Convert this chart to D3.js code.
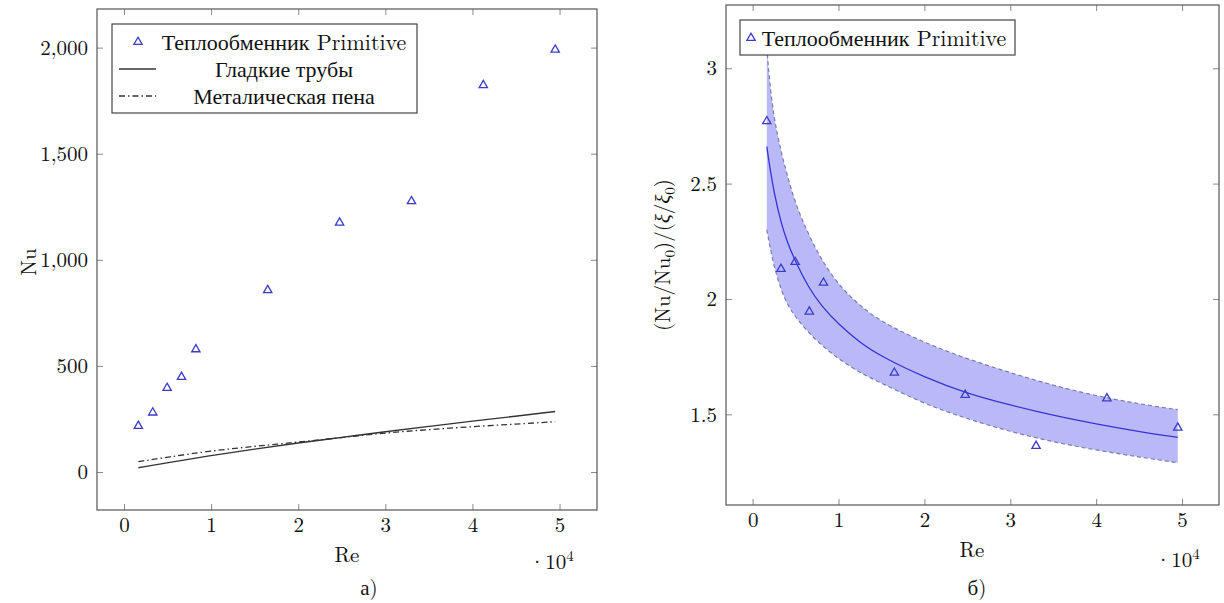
<!DOCTYPE html>
<html>
<head>
<meta charset="utf-8">
<script src="https://cdn.jsdelivr.net/npm/d3@7"></script>
<style>
  html, body { margin: 0; padding: 0; background: #fff; }
  svg { display: block; }
  svg text { font-family: "Latin Modern Roman", "Liberation Serif", serif; fill: #111; }
</style>
</head>
<body>
<svg id="chart" width="1224" height="603"></svg>
<script>
// Reynolds numbers of the measured points (×10^4)
const RE = [0.165, 0.33, 0.495, 0.66, 0.825, 1.65, 2.475, 3.3, 4.125, 4.95];
// Nusselt number, Primitive heat exchanger
const NU_PRIMITIVE = [217, 280, 396, 448, 578, 857, 1175, 1276, 1823, 1990];

// Reference correlations (×10^4 Re)
const CURVE_RE = [0.165, 0.5, 1.0, 1.5, 2.0, 2.5, 3.0, 3.5, 4.0, 4.5, 4.95];
const NU_SMOOTH = [20, 44, 78, 108, 137, 163, 190, 215, 240, 263, 285];
const NU_FOAM = [49, 70, 100, 121, 141, 162, 185, 200, 214, 226, 237];

// Thermal-hydraulic efficiency (Nu/Nu0)/(xi/xi0) of the same points
const RATIO_PRIMITIVE = [2.77, 2.13, 2.16, 1.945, 2.07, 1.68, 1.584, 1.363, 1.569, 1.442];

// Fitted trend and its confidence band
const FIT_RE = [0.165, 0.2, 0.25, 0.33, 0.4, 0.5, 0.65, 0.8, 1.0, 1.25, 1.5, 2.0, 2.5, 3.0, 3.5, 4.0, 4.5, 4.95];
const FIT = [2.66, 2.57, 2.46, 2.33, 2.25, 2.16, 2.05, 1.97, 1.89, 1.81, 1.75, 1.66, 1.59, 1.54, 1.495, 1.458, 1.425, 1.40];
const BAND_UPPER = [3.09, 2.93, 2.78, 2.64, 2.54, 2.41, 2.28, 2.17, 2.06, 1.97, 1.90, 1.81, 1.74, 1.68, 1.625, 1.58, 1.545, 1.52];
const BAND_LOWER = [2.30, 2.23, 2.14, 2.04, 1.98, 1.92, 1.855, 1.80, 1.74, 1.68, 1.635, 1.545, 1.48, 1.425, 1.38, 1.345, 1.315, 1.29];

// Axis ticks
const X_TICKS = [0, 1, 2, 3, 4, 5];
const Y_TICKS_NU = [0, 500, 1000, 1500, 2000];
const Y_TICKS_RATIO = [1.5, 2, 2.5, 3];

// Legend entries: [Cyrillic part, Latin part]
const LEGEND_LEFT = [["Теплообменник", "Primitive"], ["Гладкие трубы", ""], ["Металическая пена", ""]];
const LEGEND_RIGHT = [["Теплообменник", "Primitive"]];

const BLUE = "#3b3bcc";
const FRAME = "#555";
const TICK = "#8a8a8a";
const SERIF = "'Latin Modern Roman', 'Liberation Serif', serif";
const TEXT_SERIF = "'Liberation Serif', serif";
const FS = 21;

const svg = d3.select("#chart");
svg.append("rect").attr("width", 1224).attr("height", 603).attr("fill", "#fff");

function triangle(g, cx, cy) {
  g.append("path")
    .attr("d", d3.symbol(d3.symbolTriangle, 30)())
    .attr("transform", `translate(${cx},${cy})`)
    .attr("fill", "none")
    .attr("stroke", BLUE)
    .attr("stroke-width", 1.3);
}

function label(parent) {
  return parent.append("text").style("font-family", SERIF).attr("font-size", FS);
}

// legend entry: Cyrillic words in a Cyrillic-capable serif, Latin words in Latin Modern
function legendText(parent, x, y, parts) {
  const t = parent.append("text").style("font-family", TEXT_SERIF)
    .attr("x", x).attr("y", y).attr("dy", "0.35em")
    .attr("text-anchor", "middle").attr("font-size", 22);
  t.append("tspan").text(parts[0]);
  if (parts[1]) t.append("tspan").style("font-family", SERIF).text(" " + parts[1]);
  return t;
}

function panel(box, xDomain, yDomain, yTicks, yFormat, id) {
  const x = d3.scaleLinear().domain(xDomain).range([box.x0, box.x1]);
  const y = d3.scaleLinear().domain(yDomain).range([box.y1, box.y0]);
  const g = svg.append("g");

  svg.append("clipPath").attr("id", id)
    .append("rect")
    .attr("x", box.x0).attr("y", box.y0)
    .attr("width", box.x1 - box.x0).attr("height", box.y1 - box.y0);

  const style = sel => {
    sel.attr("font-family", null).attr("font-size", null);
    sel.select(".domain").remove();
    sel.selectAll(".tick line").attr("stroke", TICK).attr("stroke-width", 1);
    sel.selectAll(".tick text")
      .style("font-family", SERIF)
      .attr("font-size", FS)
      .attr("fill", "#111");
  };

  g.append("g").attr("transform", `translate(0,${box.y1})`)
    .call(d3.axisBottom(x).tickValues(X_TICKS).tickSize(-6).tickPadding(7).tickFormat(d3.format("d")))
    .call(style);
  g.append("g").attr("transform", `translate(0,${box.y0})`)
    .call(d3.axisTop(x).tickValues(X_TICKS).tickSize(-6).tickFormat(""))
    .call(style);
  g.append("g").attr("transform", `translate(${box.x0},0)`)
    .call(d3.axisLeft(y).tickValues(yTicks).tickSize(-6).tickPadding(9).tickFormat(yFormat))
    .call(style);
  g.append("g").attr("transform", `translate(${box.x1},0)`)
    .call(d3.axisRight(y).tickValues(yTicks).tickSize(-6).tickFormat(""))
    .call(style);

  const plot = svg.append("g").attr("clip-path", `url(#${id})`);
  return { x, y, g, plot };
}

function frame(box) {
  svg.append("rect")
    .attr("x", box.x0).attr("y", box.y0)
    .attr("width", box.x1 - box.x0).attr("height", box.y1 - box.y0)
    .attr("fill", "none").attr("stroke", FRAME).attr("stroke-width", 1.2);
}

function sciLabel(px, py) {
  const t = label(svg).attr("x", px).attr("y", py);
  t.append("tspan").text("·10");
  t.append("tspan").attr("dy", -8).attr("font-size", 15).text("4");
}

/* ---------- Panel а): Nu vs Re ---------- */
const boxA = { x0: 97, x1: 597, y0: 9, y1: 510 };
const A = panel(boxA, [-0.31, 5.43], [-179, 2182], Y_TICKS_NU, d3.format(","), "clipA");

const lineA = d3.line().curve(d3.curveBasis);
A.plot.append("path")
  .attr("d", lineA(CURVE_RE.map((r, i) => [A.x(r), A.y(NU_SMOOTH[i])])))
  .attr("fill", "none").attr("stroke", "#333").attr("stroke-width", 1.4);
A.plot.append("path")
  .attr("d", lineA(CURVE_RE.map((r, i) => [A.x(r), A.y(NU_FOAM[i])])))
  .attr("fill", "none").attr("stroke", "#333").attr("stroke-width", 1.3)
  .attr("stroke-dasharray", "6,3,1.5,3");
RE.forEach((r, i) => triangle(A.plot, A.x(r), A.y(NU_PRIMITIVE[i])));
frame(boxA);

// legend а)
const legA = svg.append("g");
legA.append("rect").attr("x", 112).attr("y", 24).attr("width", 305).attr("height", 89)
  .attr("fill", "#fff").attr("stroke", "#444").attr("stroke-width", 1.2);
const rowsA = [42, 69, 96];
triangle(legA, 138, rowsA[0]);
legA.append("line").attr("x1", 119).attr("x2", 156).attr("y1", rowsA[1]).attr("y2", rowsA[1])
  .attr("stroke", "#333").attr("stroke-width", 1.4);
legA.append("line").attr("x1", 119).attr("x2", 156).attr("y1", rowsA[2]).attr("y2", rowsA[2])
  .attr("stroke", "#333").attr("stroke-width", 1.3).attr("stroke-dasharray", "6,3,1.5,3");
LEGEND_LEFT.forEach((p, i) => legendText(legA, 284, rowsA[i], p));

label(svg).attr("transform", "translate(36,262) rotate(-90)")
  .attr("text-anchor", "middle").text("Nu");
label(svg).attr("x", 347).attr("y", 562).attr("text-anchor", "middle").text("Re");
sciLabel(529, 569);
label(svg).attr("x", 369).attr("y", 595).attr("text-anchor", "middle").text("а)");

/* ---------- Panel б): efficiency vs Re ---------- */
const boxB = { x0: 726, x1: 1219, y0: 5, y1: 505 };
const B = panel(boxB, [-0.31, 5.43], [1.107, 3.274], Y_TICKS_RATIO, d3.format(""), "clipB");

const area = d3.area().curve(d3.curveBasis)
  .x((d, i) => B.x(FIT_RE[i]))
  .y0((d, i) => B.y(BAND_LOWER[i]))
  .y1((d, i) => B.y(BAND_UPPER[i]));
B.plot.append("path").attr("d", area(FIT_RE)).attr("fill", "#b9b9f7");

const lineB = d3.line().curve(d3.curveBasis);
[BAND_UPPER, BAND_LOWER].forEach(arr => {
  B.plot.append("path")
    .attr("d", lineB(FIT_RE.map((r, i) => [B.x(r), B.y(arr[i])])))
    .attr("fill", "none").attr("stroke", "#7c7cae").attr("stroke-width", 1.2)
    .attr("stroke-dasharray", "4,3");
});
B.plot.append("path")
  .attr("d", lineB(FIT_RE.map((r, i) => [B.x(r), B.y(FIT[i])])))
  .attr("fill", "none").attr("stroke", "#3535d6").attr("stroke-width", 1.3);
RE.forEach((r, i) => triangle(B.plot, B.x(r), B.y(RATIO_PRIMITIVE[i])));
frame(boxB);

// legend б)
const legB = svg.append("g");
legB.append("rect").attr("x", 740).attr("y", 20).attr("width", 275).attr("height", 35)
  .attr("fill", "#fff").attr("stroke", "#444").attr("stroke-width", 1.2);
triangle(legB, 751, 38);
LEGEND_RIGHT.forEach(p => legendText(legB, 884, 38, p));

const yl = label(svg).attr("transform", "translate(670,255) rotate(-90)")
  .attr("text-anchor", "middle");
yl.append("tspan").text("(Nu/Nu");
yl.append("tspan").attr("dy", 5).attr("font-size", 15).text("0");
yl.append("tspan").attr("dy", -5).text(")/(");
yl.append("tspan").attr("font-style", "italic").text("ξ");
yl.append("tspan").text("/");
yl.append("tspan").attr("font-style", "italic").text("ξ");
yl.append("tspan").attr("dy", 5).attr("font-size", 15).text("0");
yl.append("tspan").attr("dy", -5).text(")");

label(svg).attr("x", 972).attr("y", 557).attr("text-anchor", "middle").text("Re");
sciLabel(1155, 567);
label(svg).attr("x", 977).attr("y", 595).attr("text-anchor", "middle").text("б)");
</script>
</body>
</html>
